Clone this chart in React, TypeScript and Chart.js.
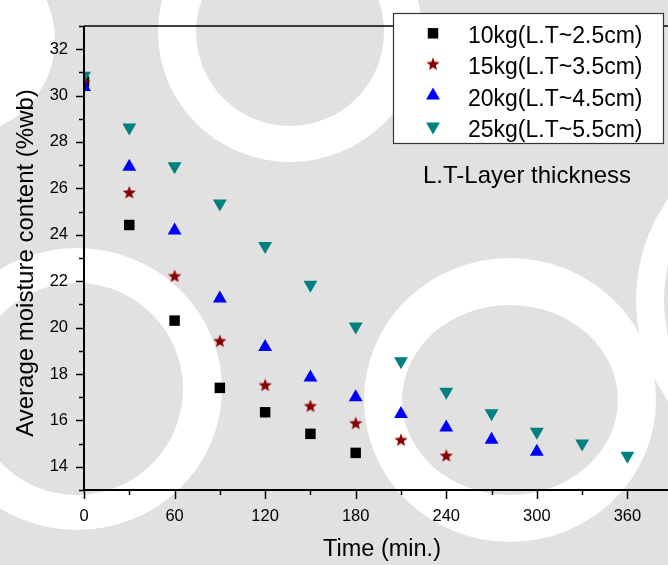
import React, { useEffect, useRef } from 'react';
import { Chart, registerables } from 'chart.js';

Chart.register(...registerables);

// ---- data ----
const timeMin = [0, 30, 60, 90, 120, 150, 180, 210, 240, 270, 300, 330, 360];
const seriesLabels = ['10kg(L.T~2.5cm)', '15kg(L.T~3.5cm)', '20kg(L.T~4.5cm)', '25kg(L.T~5.5cm)'];
const mc10kg = [30.6, 24.42, 20.3, 17.4, 16.35, 15.42, 14.6];
const mc15kg = [30.55, 25.8, 22.2, 19.4, 17.5, 16.6, 15.86, 15.14, 14.46];
const mc20kg = [30.37, 26.93, 24.18, 21.25, 19.16, 17.85, 17.0, 16.27, 15.69, 15.17, 14.65];
const mc25kg = [30.85, 28.62, 26.95, 25.35, 23.52, 21.84, 20.05, 18.55, 17.23, 16.31, 15.51, 15.0, 14.48];
const xTicks = [0, 60, 120, 180, 240, 300, 360];
const yTicks = [14, 16, 18, 20, 22, 24, 26, 28, 30, 32];
const xTitle = 'Time (min.)';
const yTitle = 'Average moisture content (%wb)';
const noteText = 'L.T-Layer thickness';

const FONT = '"Liberation Sans", Arial, Helvetica, sans-serif';
const colors = ['#000000', '#880000', '#0000ff', '#008080'];
const GREY = '#e1e1e1';

function makeStar(color: string, R: number, r: number) {
  const size = Math.ceil(R * 2) + 2;
  const c = document.createElement('canvas');
  c.width = size;
  c.height = size;
  const g = c.getContext('2d')!;
  g.fillStyle = color;
  g.beginPath();
  for (let i = 0; i < 10; i++) {
    const rad = i % 2 === 0 ? R : r;
    const a = -Math.PI / 2 + (i * Math.PI) / 5;
    const px = size / 2 + rad * Math.cos(a);
    const py = size / 2 + rad * Math.sin(a);
    if (i === 0) g.moveTo(px, py);
    else g.lineTo(px, py);
  }
  g.closePath();
  g.fill();
  return c;
}

function drawMarker(ctx: CanvasRenderingContext2D, style: any, rot: number, x: number, y: number, r: number, color: string) {
  ctx.save();
  ctx.fillStyle = color;
  if (style instanceof HTMLCanvasElement) {
    ctx.drawImage(style, x - style.width / 2, y - style.height / 2);
  } else if (style === 'rect') {
    const s = r * Math.SQRT1_2;
    ctx.fillRect(x - s, y - s, 2 * s, 2 * s);
  } else if (style === 'triangle') {
    ctx.translate(x, y);
    ctx.rotate((rot * Math.PI) / 180);
    ctx.beginPath();
    let a = 0;
    for (let i = 0; i < 3; i++) {
      const px = Math.sin(a) * r;
      const py = -Math.cos(a) * r;
      if (i === 0) ctx.moveTo(px, py);
      else ctx.lineTo(px, py);
      a += (2 * Math.PI) / 3;
    }
    ctx.closePath();
    ctx.fill();
  }
  ctx.restore();
}

const backgroundPlugin = {
  id: 'bgWatermark',
  beforeDraw(chart: any) {
    const { ctx, width, height } = chart;
    ctx.save();
    ctx.fillStyle = GREY;
    ctx.fillRect(0, 0, width, height);
    // white corner at top-left
    ctx.fillStyle = '#fff';
    ctx.beginPath();
    ctx.ellipse(-40, 40, 95, 95, 0, 0, Math.PI * 2);
    ctx.fill();
    // rings: cx, cy, inner rx, inner ry, outer rx, outer ry
    const rings = [
      [290, 32, 94, 94, 132, 130],
      [77, 389, 106, 106, 145, 141],
      [510, 400, 108, 95, 146, 142],
      [800, 300, 136, 150, 164, 170],
    ];
    for (const [cx, cy, irx, iry, orx, ory] of rings) {
      ctx.fillStyle = '#fff';
      ctx.beginPath();
      ctx.ellipse(cx, cy, orx, ory, 0, 0, Math.PI * 2);
      ctx.fill();
      ctx.fillStyle = GREY;
      ctx.beginPath();
      ctx.ellipse(cx, cy, irx, iry, 0, 0, Math.PI * 2);
      ctx.fill();
    }
    ctx.restore();
  },
};

const decorPlugin = {
  id: 'decor',
  afterDraw(chart: any) {
    const { ctx, chartArea, scales } = chart;
    const xs = scales.x;
    const ys = scales.y;
    ctx.save();
    ctx.strokeStyle = '#000';
    // axis lines
    ctx.lineWidth = 2;
    ctx.beginPath();
    ctx.moveTo(chartArea.left, chartArea.top);
    ctx.lineTo(chartArea.left, chartArea.bottom);
    ctx.lineTo(chart.width, chartArea.bottom);
    ctx.stroke();
    // top border
    ctx.lineWidth = 1.5;
    ctx.beginPath();
    ctx.moveTo(chartArea.left, chartArea.top);
    ctx.lineTo(chart.width, chartArea.top);
    ctx.stroke();
    // ticks
    ctx.lineWidth = 1.5;
    const xStep = (xTicks[1] - xTicks[0]) / 2;
    for (let v = xTicks[0]; v <= xs.max; v += xStep) {
      const px = Math.round(xs.getPixelForValue(v)) + 0.5;
      const len = (v - xTicks[0]) % (xStep * 2) === 0 ? 9 : 5;
      ctx.beginPath();
      ctx.moveTo(px, chartArea.bottom);
      ctx.lineTo(px, chartArea.bottom + len);
      ctx.stroke();
    }
    const yStep = (yTicks[1] - yTicks[0]) / 2;
    for (let v = Math.ceil(ys.min); v <= ys.max; v += yStep) {
      const py = Math.round(ys.getPixelForValue(v)) + 0.5;
      const len = (v - yTicks[0]) % (yStep * 2) === 0 ? 8 : 5;
      ctx.beginPath();
      ctx.moveTo(chartArea.left - len, py);
      ctx.lineTo(chartArea.left, py);
      ctx.stroke();
    }
    // axis titles
    ctx.fillStyle = '#000';
    ctx.font = `23.5px ${FONT}`;
    ctx.textAlign = 'center';
    ctx.textBaseline = 'alphabetic';
    ctx.fillText(xTitle, 382, 556);
    ctx.save();
    ctx.translate(33, 263);
    ctx.rotate(-Math.PI / 2);
    ctx.font = `24px ${FONT}`;
    ctx.fillText(yTitle, 0, 0);
    ctx.restore();

    // legend
    const bx = 393, by = 13, bw = 270, bh = 130;
    ctx.fillStyle = '#fff';
    ctx.fillRect(bx, by, bw, bh);
    ctx.strokeStyle = '#333';
    ctx.lineWidth = 1.2;
    ctx.strokeRect(bx + 0.5, by + 0.5, bw, bh);
    ctx.font = `23px ${FONT}`;
    ctx.textAlign = 'left';
    ctx.textBaseline = 'alphabetic';
    chart.data.datasets.forEach((ds: any, i: number) => {
      const cy = 33.3 + i * 31.1;
      drawMarker(ctx, ds.pointStyle, ds.pointRotation || 0, 433, cy, ds.pointRadius, ds.backgroundColor);
      ctx.fillStyle = '#000';
      ctx.fillText(ds.label, 468, cy + 10);
    });
    // note
    ctx.font = `24px ${FONT}`;
    ctx.fillStyle = '#000';
    ctx.fillText(noteText, 423, 183);
    ctx.restore();
  },
};

export default function App() {
  const ref = useRef<HTMLCanvasElement>(null);
  useEffect(() => {
    document.body.style.margin = '0';
    const star = makeStar(colors[1], 6.9, 3.0);
    const series = [mc10kg, mc15kg, mc20kg, mc25kg];
    const styles: any[] = ['rect', star, 'triangle', 'triangle'];
    const radii = [7.4, 7, 8, 8];
    const rotations = [0, 0, 0, 180];
    const datasets = series.map((vals, i) => ({
      label: seriesLabels[i],
      data: vals.map((v, j) => ({ x: timeMin[j], y: v })),
      pointStyle: styles[i],
      pointRadius: radii[i],
      pointRotation: rotations[i],
      backgroundColor: colors[i],
      borderColor: colors[i],
      borderWidth: 0,
      pointBorderWidth: 0,
      showLine: false,
      clip: 0,
      order: 4 - i,
    }));
    const chart = new Chart(ref.current!, {
      type: 'scatter',
      data: { datasets },
      plugins: [backgroundPlugin, decorPlugin],
      options: {
        animation: false,
        responsive: false,
        maintainAspectRatio: false,
        devicePixelRatio: 1,
        layout: { padding: { top: 6, right: 0, left: 0, bottom: 0 } },
        plugins: { legend: { display: false }, tooltip: { enabled: false } },
        events: [],
        scales: {
          x: {
            type: 'linear',
            min: 0,
            max: 381.6,
            grid: { display: false, drawTicks: false },
            border: { display: false },
            ticks: { color: '#000', font: { family: FONT, size: 16.5 }, padding: 17, maxRotation: 0 },
            afterBuildTicks: (s: any) => { s.ticks = xTicks.map((v) => ({ value: v })); },
            afterFit: (s: any) => { s.height = 75; },
          },
          y: {
            type: 'linear',
            min: 13,
            max: 33,
            grid: { display: false, drawTicks: false },
            border: { display: false },
            ticks: { color: '#000', font: { family: FONT, size: 16.5 }, padding: 16 },
            afterBuildTicks: (s: any) => { s.ticks = yTicks.map((v) => ({ value: v })); },
            afterFit: (s: any) => { s.width = 84; },
          },
        },
      } as any,
    });
    return () => chart.destroy();
  }, []);
  return (
    <div style={{ width: 668, height: 565 }}>
      <canvas ref={ref} width={668} height={565} style={{ display: 'block' }} />
    </div>
  );
}
